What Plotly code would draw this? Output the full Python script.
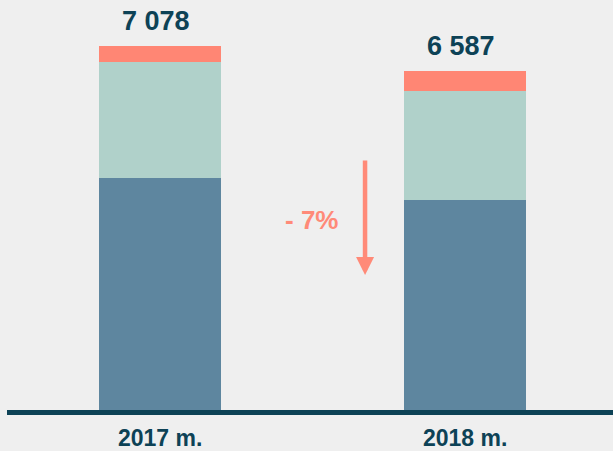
import plotly.graph_objects as go

categories = ["2017 m.", "2018 m."]
dark_vals = [4511, 4080]
light_vals = [2255, 2125]
red_vals = [312, 382]
totals = [7078, 6587]
total_labels = ["7 078", "6 587"]
change_label = "- 7%"

DARK = "#5E869F"
LIGHT = "#B0D1CA"
RED = "#FF8674"
TEXT = "#0D4256"
BG = "#EFEFEF"

x = [0, 1]
fig = go.Figure()
for vals, col in [(dark_vals, DARK), (light_vals, LIGHT), (red_vals, RED)]:
    fig.add_trace(go.Bar(x=x, y=vals, marker=dict(color=col, line=dict(width=0)),
                         width=0.4, showlegend=False, hoverinfo="skip"))

for xi, t, lab in zip(x, totals, total_labels):
    fig.add_annotation(x=xi, y=t, text=f"<b>{lab}</b>", showarrow=False,
                       yanchor="middle", yshift=25, xshift=-4,
                       font=dict(family="Liberation Sans, Arial", size=27, color=TEXT))

fig.add_annotation(x=0.672, y=2625, ax=0.672, ay=4880, xref="x", yref="y",
                   axref="x", ayref="y", text="", showarrow=True,
                   arrowhead=2, arrowsize=0.8, arrowwidth=4.5, arrowcolor="#FF8A78")
fig.add_annotation(x=0.498, y=3694, text="<b>" + change_label + "</b>", showarrow=False,
                   font=dict(family="Liberation Sans, Arial", size=26, color="#FF8A78"))

fig.update_layout(
    width=613, height=451, barmode="stack",
    paper_bgcolor=BG, plot_bgcolor=BG,
    margin=dict(l=7, r=0, t=0, b=41, autoexpand=False),
    xaxis=dict(range=[-0.502, 1.485], tickvals=x, ticktext=[f"<b>{c}</b>" for c in categories],
               showline=True, linecolor=TEXT, linewidth=5, showgrid=False, zeroline=False,
               automargin=False,
               ticks="outside", ticklen=3, tickcolor="rgba(0,0,0,0)",
               tickfont=dict(family="Liberation Sans, Arial", size=23, color=TEXT)),
    yaxis=dict(range=[0, 7972], visible=False, showgrid=False, zeroline=False),
)
fig.write_html("out.html", config={"displayModeBar": False},
               post_script="document.body.style.margin='0';document.body.style.background='#EFEFEF';")
